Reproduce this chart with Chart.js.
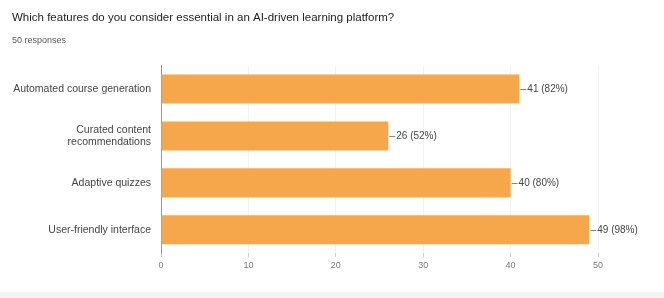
<!DOCTYPE html>
<html>
<head>
<meta charset="utf-8">
<script src="https://cdn.jsdelivr.net/npm/chart.js@4.4.1/dist/chart.umd.min.js"></script>
<style>
  html, body { margin: 0; padding: 0; background: #f4f4f4; }
  #wrap { width: 664px; height: 292px; background: #fff; position: relative; }
</style>
</head>
<body>
<div id="wrap"><canvas id="chart" width="664" height="292"></canvas></div>
<script>
const titleText = 'Which features do you consider essential in an AI-driven learning platform?';
const subtitleText = '50 responses';
const categories = [
  'Automated course generation',
  ['Curated content', 'recommendations'],
  'Adaptive quizzes',
  'User-friendly interface',
];
const counts = [41, 26, 40, 49];
const percents = [82, 52, 80, 98];
const xTicks = [0, 10, 20, 30, 40, 50];

const FONT = 'Arial, "Liberation Sans", sans-serif';

// draws "—41 (82%)" after each bar
const valueLabels = {
  id: 'valueLabels',
  afterDatasetsDraw(chart) {
    const ctx = chart.ctx;
    const meta = chart.getDatasetMeta(0);
    ctx.save();
    ctx.font = '10px ' + FONT;
    ctx.fillStyle = '#444';
    ctx.strokeStyle = '#888';
    ctx.lineWidth = 1;
    ctx.textBaseline = 'middle';
    meta.data.forEach((bar, i) => {
      const x = bar.x;
      const y = Math.round(bar.y) + 0.5;
      ctx.beginPath();
      ctx.moveTo(x + 1, y);
      ctx.lineTo(x + 7, y);
      ctx.stroke();
      ctx.fillText(`${counts[i]} (${percents[i]}%)`, x + 8, y);
    });
    ctx.restore();
  },
};

new Chart(document.getElementById('chart'), {
  type: 'bar',
  data: {
    labels: categories,
    datasets: [{
      data: counts,
      backgroundColor: '#f6a74c',
      borderWidth: 0,
      categoryPercentage: 1,
      barPercentage: 0.62,
    }],
  },
  options: {
    indexAxis: 'y',
    responsive: false,
    animation: false,
    layout: { padding: { left: 12, right: 66, top: 11, bottom: 18 } },
    plugins: {
      legend: { display: false },
      tooltip: { enabled: false },
      title: {
        display: true,
        text: titleText,
        align: 'start',
        color: '#222',
        font: { family: FONT, size: 11.5, weight: 'normal' },
        padding: { top: 0, bottom: 10 },
      },
      subtitle: {
        display: true,
        text: subtitleText,
        align: 'start',
        color: '#555',
        font: { family: FONT, size: 9 },
        padding: { top: 0, bottom: 20 },
      },
    },
    scales: {
      x: {
        min: 0,
        max: 50,
        afterBuildTicks(scale) { scale.ticks = xTicks.map((v) => ({ value: v })); },
        grid: { color: '#f3f3f3', tickLength: 4, drawTicks: true, tickColor: '#ccc' },
        border: { display: false },
        ticks: { color: '#777', padding: 3, font: { family: FONT, size: 9 } },
      },
      y: {
        afterFit(scale) { scale.width = 149; },
        grid: { display: false },
        border: { display: true, color: '#999' },
        ticks: { color: '#444', padding: 2, font: { family: FONT, size: 10.5 } },
      },
    },
  },
  plugins: [valueLabels],
});
</script>
</body>
</html>
